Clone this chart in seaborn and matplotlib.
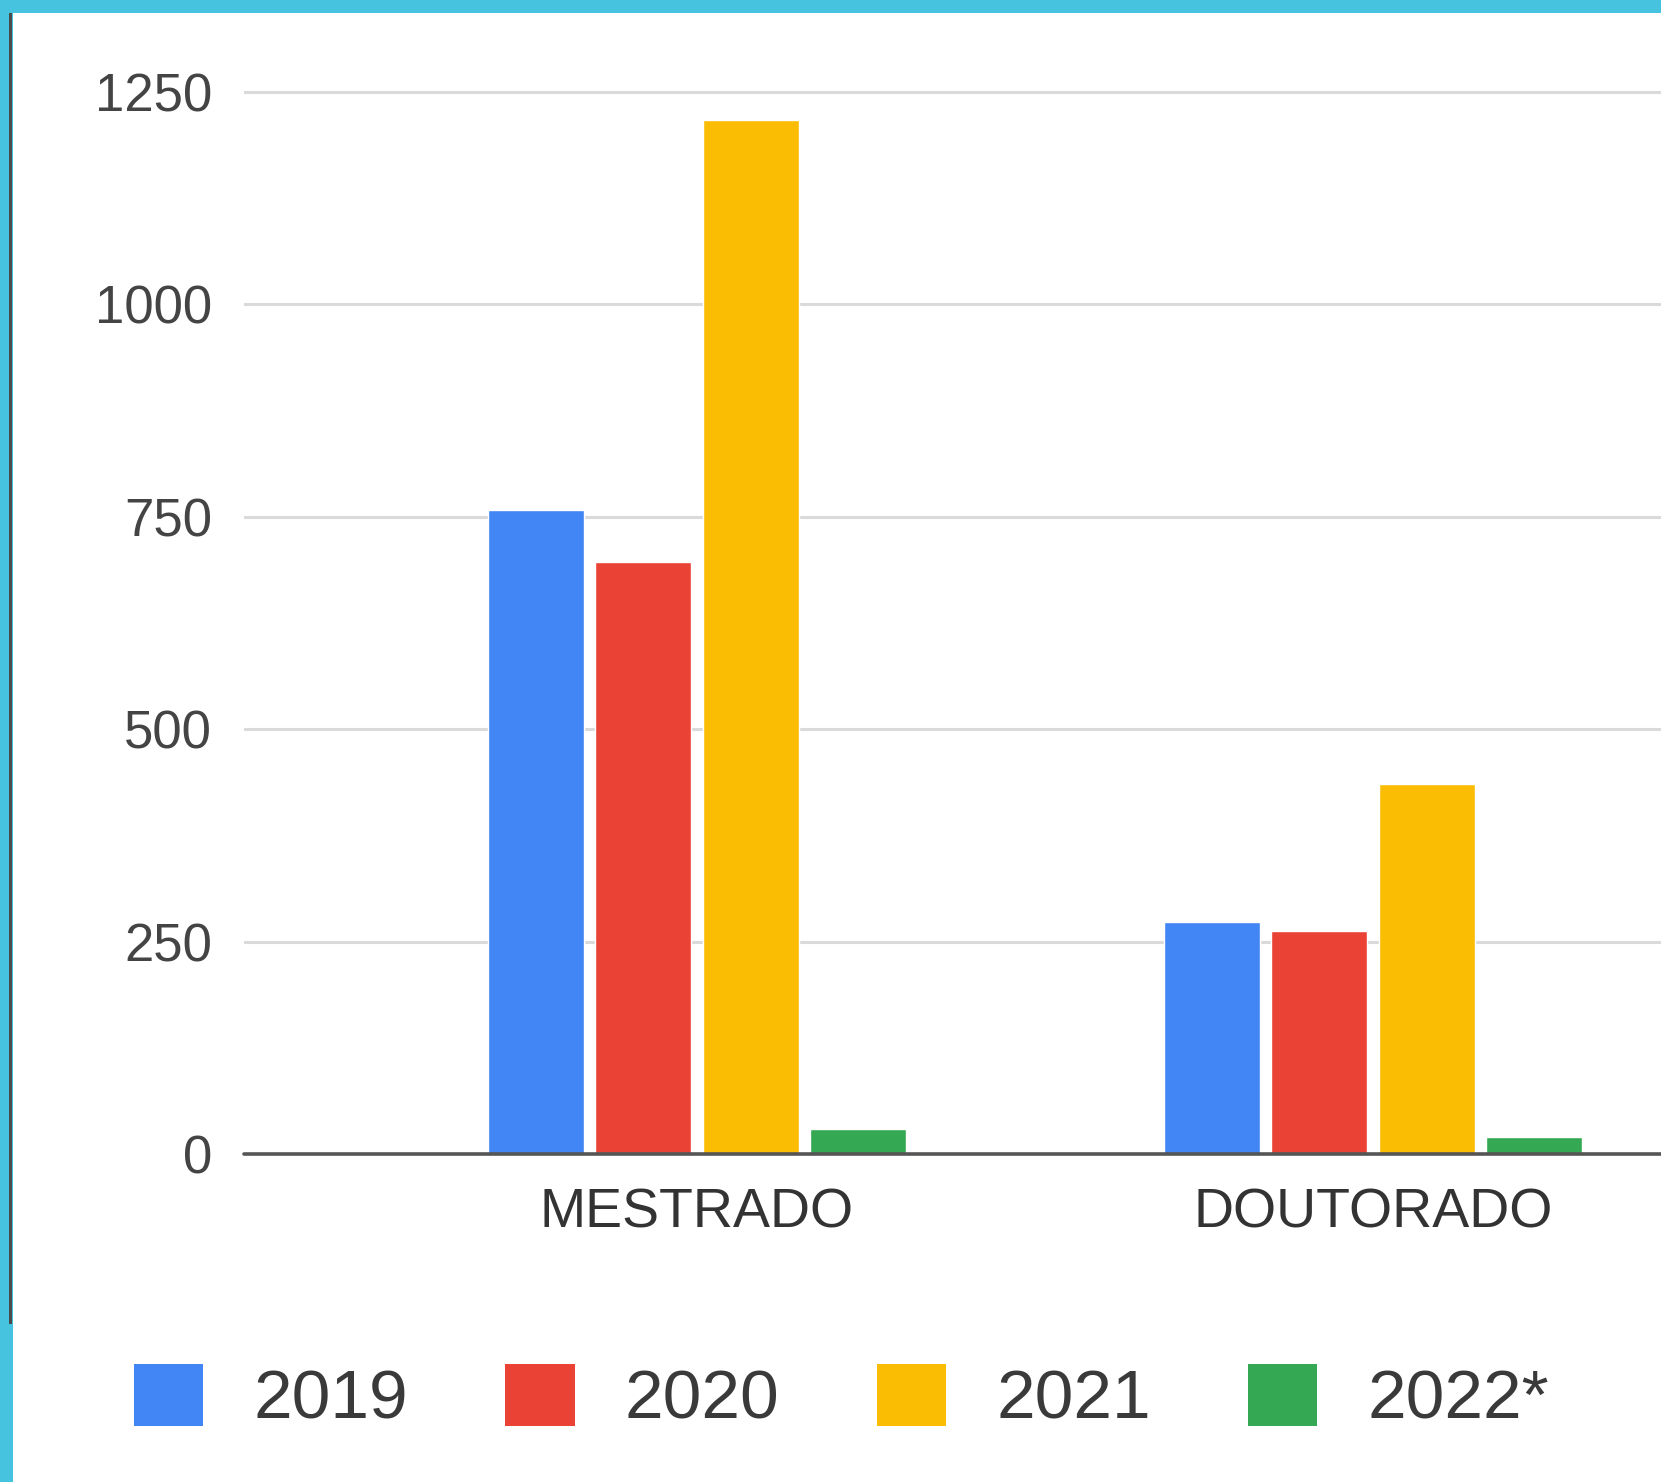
import numpy as np
import pandas as pd
import matplotlib
matplotlib.use("Agg")
import matplotlib.pyplot as plt
from matplotlib.patches import Patch, Rectangle
import seaborn as sns

# ---- data ----
categories = ["MESTRADO", "DOUTORADO"]
years = ["2019", "2020", "2021", "2022*"]
mestrado = [758, 697, 1217, 29]
doutorado = [273, 262, 436, 20]
y_ticks = [0, 250, 500, 750, 1000, 1250]

colors = ["#4285F4", "#EA4335", "#FBBC04", "#34A853"]
palette = dict(zip(years, colors))

df = pd.DataFrame({
    "nivel": np.repeat(categories, len(years)),
    "ano": years * len(categories),
    "valor": mestrado + doutorado,
})

sns.set_theme(style="white")
plt.rcParams["font.family"] = ["Liberation Sans", "DejaVu Sans"]

W, H = 1661, 1482
fig = plt.figure(figsize=(W / 100, H / 100), dpi=100)
fig.patch.set_facecolor("white")
ax = fig.add_axes([244 / W, 1 - 1154 / H, 1 - 244 / W, (1154 - 13) / H])

sns.barplot(data=df, x="nivel", y="valor", hue="ano", order=categories,
            hue_order=years, palette=palette, saturation=1, width=0.635,
            gap=0.105, errorbar=None, legend=False, ax=ax)

ax.set_xlim(-0.670, 1.426)
ax.set_ylim(0, 1250 + (92 - 13) / 0.8498)
ax.set_yticks(y_ticks)
ax.set_yticklabels([str(v) for v in y_ticks])
for v in y_ticks[1:]:
    ax.axhline(v, color="#dadada", lw=2.2, zorder=0)
ax.axhline(0, color="#555555", lw=2.6, zorder=3, clip_on=False)
for s in ax.spines.values():
    s.set_visible(False)
ax.tick_params(axis="y", length=0, pad=23, labelsize=38, labelcolor="#444444")
ax.tick_params(axis="x", length=0, pad=24, labelsize=40, labelcolor="#333333")
ax.set_xlabel("")
ax.set_ylabel("")
ax.grid(False)

# ---- legend at the bottom ----
handles = [Patch(facecolor=c, edgecolor="none") for c in colors]
fig.legend(handles, years, loc="center left", bbox_to_anchor=(134 / W, 1 - 1398 / H),
           ncol=4, frameon=False, fontsize=50, handlelength=1.0, handleheight=1.0,
           handletextpad=0.72, columnspacing=1.4, borderpad=0, borderaxespad=0,
           labelcolor="#3a3a3a")

# ---- cyan frame around the slide ----
cyan = "#46C3DE"
fig.patches.append(Rectangle((0, 1 - 13 / H), 1, 13 / H, transform=fig.transFigure,
                             facecolor=cyan, edgecolor="none", zorder=10))
fig.patches.append(Rectangle((0, 0), 12.5 / W, 1, transform=fig.transFigure,
                             facecolor=cyan, edgecolor="none", zorder=10))
fig.patches.append(Rectangle((9 / W, 1 - 1324 / H), 3 / W, (1324 - 13) / H,
                             transform=fig.transFigure, facecolor="#4a4a4a",
                             edgecolor="none", zorder=11))

fig.savefig("out.png", dpi=100, facecolor="white")
